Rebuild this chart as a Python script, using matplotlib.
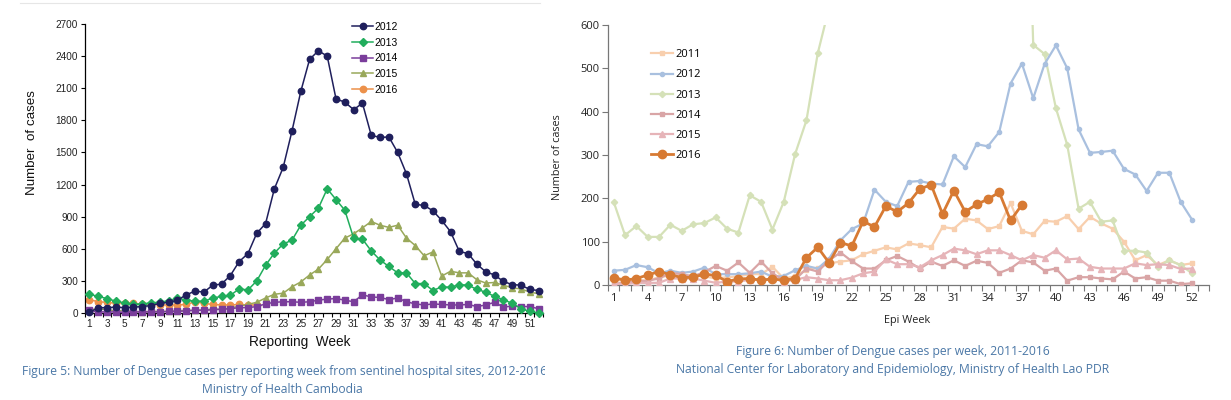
import matplotlib
matplotlib.use("Agg")
import matplotlib.pyplot as plt
from matplotlib.transforms import Bbox, TransformedBbox
from matplotlib.lines import Line2D

# ---------------- Data: Cambodia (Figure 5) ----------------
kh_weeks = list(range(1, 53))
kh_2012 = [5, 50, 50, 55, 50, 55, 60, 70, 90, 100, 120, 170, 205, 195, 260, 270, 350, 480, 555, 745,
           835, 1160, 1360, 1700, 2070, 2370, 2450, 2400, 2000, 1970, 1900, 1960, 1660, 1640, 1645, 1500,
           1300, 1015, 1005, 955, 865, 760, 575, 555, 455, 385, 355, 295, 265, 260, 220, 210]
kh_2013 = [175, 155, 135, 110, 95, 80, 85, 95, 100, 115, 140, 120, 110, 110, 140, 155, 165, 225, 215, 300,
           445, 560, 645, 680, 820, 900, 980, 1160, 1060, 960, 700, 690, 580, 495, 435, 375,
           375, 275, 275, 210, 245, 240, 265, 260, 220, 195, 155, 125, 90, 40, 15, 0]
kh_2014 = [25, 10, 10, 10, 5, 10, 10, 10, 10, 15, 15, 20, 25, 25, 30, 35, 40, 50, 50, 60,
           85, 100, 105, 105, 100, 105, 120, 130, 135, 120, 105, 170, 150, 145, 125, 140,
           105, 85, 75, 85, 80, 75, 75, 80, 60, 75, 100, 55, 65, 60, 60, 40]
kh_2015 = [30, 40, 30, 20, 20, 15, 10, 15, 15, 15, 20, 25, 25, 30, 35, 35, 45, 65, 80, 100,
           140, 175, 185, 245, 290, 355, 410, 500, 600, 700, 740, 795, 855, 820, 800, 820,
           700, 630, 535, 570, 345, 390, 375, 375, 310, 280, 285, 260, 235, 225, 195, 180]
kh_2016 = [125, 105, 100, 90, 95, 90, 80, 85, 75, 75, 75, 80, 105, 90, 80, 75, 75, 80, 75, 75]
kh_series = {"2012": kh_2012, "2013": kh_2013, "2014": kh_2014, "2015": kh_2015, "2016": kh_2016}
kh_xticklabels = [str(w) for w in range(1, 52, 2)]
kh_yticks = list(range(0, 2701, 300))

# ---------------- Data: Lao PDR (Figure 6) ----------------
la_weeks = list(range(1, 53))
la_2011 = [12, 10, 12, 10, 18, 22, 20, 22, 20, 15, 18, 20, 25, 25, 42, 15, 20, 35, 40, 50,
           54, 57, 71, 79, 87, 82, 96, 92, 87, 134, 130, 153, 149, 129, 136, 189,
           125, 117, 148, 146, 159, 129, 157, 142, 130, 100, 57, 69, 46, 57, 46, 50]
la_2012 = [33, 35, 46, 41, 27, 33, 28, 31, 40, 25, 25, 25, 27, 31, 19, 21, 34, 44, 38, 61,
           103, 129, 142, 220, 192, 182, 238, 240, 234, 232, 297, 272, 325, 320, 353, 465,
           511, 431, 510, 553, 500, 359, 305, 307, 310, 268, 255, 217, 259, 259, 192, 151]
la_2013 = [192, 115, 136, 111, 111, 139, 125, 140, 143, 156, 130, 121, 207, 192, 128, 192, 302, 380, 535, 640,
           800, 1000, 1300, 1600, 1900, 2200, 2500, 2600, 2700, 2600, 2500, 2300, 2100, 1900, 1700, 1500,
           1400, 554, 533, 408, 323, 176, 192, 146, 149, 79, 79, 75, 42, 57, 46, 27]
la_2014 = [3, 5, 8, 10, 15, 28, 25, 20, 30, 44, 33, 52, 28, 54, 27, 11, 12, 38, 31, 57,
           75, 55, 38, 38, 57, 67, 54, 38, 54, 44, 57, 44, 56, 51, 28, 38,
           57, 52, 33, 38, 10, 18, 18, 15, 13, 31, 15, 18, 10, 10, 2, 4]
la_2015 = [2, 2, 5, 5, 5, 15, 15, 15, 10, 5, 8, 8, 12, 12, 15, 8, 12, 18, 15, 11,
           11, 17, 27, 31, 59, 48, 48, 41, 57, 69, 84, 80, 71, 80, 80, 69,
           57, 69, 63, 80, 59, 61, 42, 38, 38, 38, 50, 46, 48, 46, 37, 38]
la_2016 = [17, 11, 15, 23, 31, 24, 17, 18, 25, 22, 8, 14, 15, 11, 14, 11, 15, 63, 87, 51,
           98, 90, 147, 134, 182, 169, 189, 222, 231, 164, 218, 169, 186, 198, 214, 149, 185]
la_series = {"2011": la_2011, "2012": la_2012, "2013": la_2013, "2014": la_2014,
             "2015": la_2015, "2016": la_2016}
la_xticklabels = [str(w) for w in range(1, 53, 3)]
la_yticks = list(range(0, 601, 100))

# ---------------- Figure ----------------
W, H = 1231, 400
fig = plt.figure(figsize=(W / 100, H / 100), dpi=100)
fig.patch.set_facecolor("white")

def fx(px):
    return px / W

def fy(py):
    return 1 - py / H

# ---------- Left chart ----------
axL = fig.add_axes([fx(85), fy(313), fx(543 - 85), (313 - 24) / H])
kh_style = {
    "2012": dict(color="#1f1f5c", marker="o", ms=4.6, lw=1.1, z=6),
    "2013": dict(color="#21ad5c", marker="D", ms=4.0, lw=1.1, z=5),
    "2014": dict(color="#7a3d9b", marker="s", ms=4.2, lw=1.1, z=4),
    "2015": dict(color="#99a85a", marker="^", ms=4.6, lw=1.1, z=3),
    "2016": dict(color="#ec914a", marker="o", ms=4.6, lw=1.1, z=2),
}
for name, vals in kh_series.items():
    s = kh_style[name]
    axL.plot(kh_weeks[:len(vals)], vals, color=s["color"], marker=s["marker"], ms=s["ms"],
             lw=s["lw"], zorder=s["z"], label=name, clip_on=False)
axL.set_xlim(0.5, 52.5)
axL.set_ylim(0, 2700)
axL.set_yticks(kh_yticks)
axL.set_yticklabels([str(v) for v in kh_yticks], fontsize=7.2, family="Liberation Sans", color="#222222")
axL.set_xticks(list(range(1, 52, 2)))
axL.set_xticklabels(kh_xticklabels, fontsize=7.2, family="Liberation Sans", color="#222222")
axL.set_xticks([w + 0.5 for w in range(0, 53)], minor=True)
axL.tick_params(axis="x", which="major", length=0, pad=4)
axL.tick_params(axis="x", which="minor", length=3, width=0.8, color="black", direction="out")
axL.tick_params(axis="y", which="major", length=3, width=0.8, color="black", direction="out", pad=2)
for sp in ["top", "right"]:
    axL.spines[sp].set_visible(False)
for sp in ["left", "bottom"]:
    axL.spines[sp].set_color("black")
    axL.spines[sp].set_linewidth(0.9)
fig.text(fx(32), fy(143), "Number  of cases", rotation=90, ha="center", va="center",
         fontsize=9.6, family="Liberation Sans", color="#111111")
fig.text(fx(300), fy(342), "Reporting  Week", ha="center", va="center",
         fontsize=9.8, family="Liberation Sans", color="#111111")
legL = axL.legend(loc="upper left", bbox_to_anchor=((343 - 85) / 458, 1.04), frameon=False,
                  handlelength=2.0, handletextpad=0.1, labelspacing=0.55,
                  prop={"family": "Liberation Sans", "size": 7.5})

# faint line at top of left panel
fig.add_artist(Line2D([fx(20), fx(540)], [fy(3), fy(3)], color="#e6e6e6", lw=0.8))

# caption left (clipped at panel edge)
capc = "#4a77a6"
t1 = fig.text(fx(22), fy(372), "Figure 5: Number of Dengue cases per reporting week from sentinel hospital sites, 2012-2016",
              ha="left", va="center", fontsize=8.72, family="Open Sans", color=capc)
t1.set_clip_box(TransformedBbox(Bbox([[0, 0], [fx(545), 1]]), fig.transFigure))
t1.set_clip_on(True)
fig.text(fx(282), fy(389), "Ministry of Health Cambodia", ha="center", va="center",
         fontsize=8.72, family="Open Sans", color=capc)

# ---------- Right chart ----------
axR = fig.add_axes([fx(608), fy(285), fx(1209 - 608), (285 - 25) / H])
la_style = {
    "2011": dict(color="#f8cfae", marker="s", ms=2.6, lw=1.6, z=2),
    "2012": dict(color="#a9c0df", marker="o", ms=3.0, lw=1.6, z=3),
    "2013": dict(color="#d5e1b8", marker="D", ms=3.2, lw=1.6, z=2),
    "2014": dict(color="#d9a5a6", marker="s", ms=3.0, lw=1.6, z=3),
    "2015": dict(color="#e6b4b8", marker="^", ms=4.0, lw=1.6, z=3),
    "2016": dict(color="#d77a33", marker="o", ms=6.0, lw=2.0, z=6),
}
for name, vals in la_series.items():
    s = la_style[name]
    axR.plot(la_weeks[:len(vals)], vals, color=s["color"], marker=s["marker"], ms=s["ms"],
             lw=s["lw"], zorder=s["z"], label=name)
axR.set_xlim(0.5, 53.5)
axR.set_ylim(0, 600)
axR.set_yticks(la_yticks)
axR.set_yticklabels([str(v) for v in la_yticks], fontsize=8, family="Open Sans", color="#222222")
axR.set_xticks(list(range(1, 53, 3)))
axR.set_xticklabels(la_xticklabels, fontsize=8, family="Open Sans", color="#222222")
axR.set_xticks([w + 0.5 for w in range(0, 54)], minor=True)
axR.tick_params(axis="x", which="major", length=0, pad=6)
axR.tick_params(axis="x", which="minor", length=4, width=0.8, color="#777777", direction="out")
axR.tick_params(axis="y", which="major", length=4, width=0.8, color="#777777", direction="out", pad=2)
for sp in ["top", "right"]:
    axR.spines[sp].set_visible(False)
for sp in ["left", "bottom"]:
    axR.spines[sp].set_color("#777777")
    axR.spines[sp].set_linewidth(0.9)
fig.text(fx(557), fy(157), "Number of cases", rotation=90, ha="center", va="center",
         fontsize=7.8, family="Open Sans", color="#222222")
fig.text(fx(907), fy(320), "Epi Week", ha="center", va="center",
         fontsize=7.8, family="Open Sans", color="#222222")
legR = axR.legend(loc="upper left", bbox_to_anchor=((641 - 608) / 601, 0.945), frameon=False,
                  handlelength=2.0, handletextpad=0.2, labelspacing=0.82,
                  prop={"family": "Open Sans", "size": 8})

fig.text(fx(893), fy(352), "Figure 6: Number of Dengue cases per week, 2011-2016", ha="center", va="center",
         fontsize=8.75, family="Open Sans", color=capc)
fig.text(fx(893), fy(369), "National Center for Laboratory and Epidemiology, Ministry of Health Lao PDR",
         ha="center", va="center", fontsize=8.75, family="Open Sans", color=capc)

fig.savefig("out.png", dpi=100, facecolor="white")
